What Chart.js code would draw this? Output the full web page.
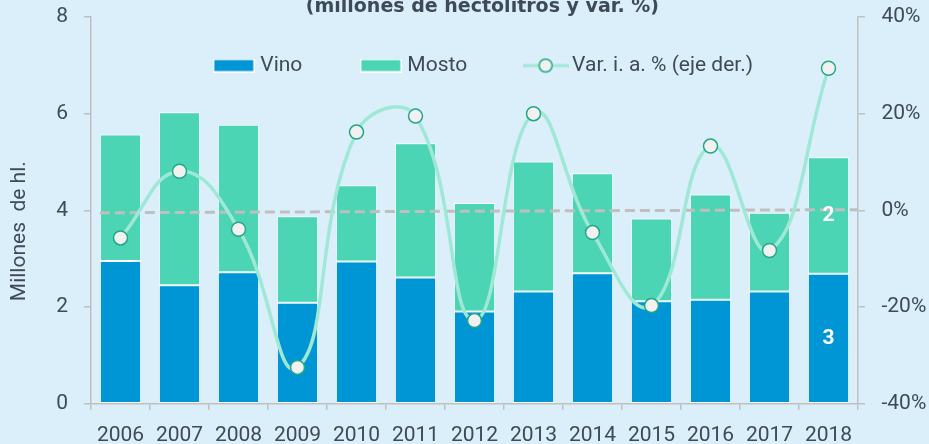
<!DOCTYPE html>
<html>
<head>
<meta charset="utf-8">
<script src="https://cdn.jsdelivr.net/npm/chart.js@4.4.1/dist/chart.umd.min.js"></script>
<style>
  html, body { margin: 0; padding: 0; background: #dbeffa; }
  #wrap { position: relative; width: 929px; height: 444px; }
</style>
</head>
<body>
<div id="wrap"><canvas id="wineChart"></canvas></div>
<script>
// --- data (millones de hl. / %) ---
const years = ['2006', '2007', '2008', '2009', '2010', '2011', '2012', '2013', '2014', '2015', '2016', '2017', '2018'];
const vino = [2.95, 2.45, 2.72, 2.09, 2.94, 2.61, 1.91, 2.32, 2.70, 2.12, 2.15, 2.32, 2.69];
const mosto = [2.62, 3.58, 3.05, 1.79, 1.58, 2.78, 2.24, 2.69, 2.07, 1.71, 2.18, 1.63, 2.41];
const varPct = [-5.7, 8.1, -3.9, -32.5, 16.2, 19.5, -22.8, 20.0, -4.6, -19.7, 13.3, -8.3, 29.4];
// dashed reference line: position (in category units) and value at each end
const refX = [-0.35, 12.5];
const refPct = [-0.5, 0.15];
const labelledYears = ['2018'];
const leftTicks = { min: 0, max: 8, step: 2 };
const rightTicks = { min: -40, max: 40, step: 20 };

// colours
const BLUE = '#0095d5';
const TEAL = '#4cd5b5';
const LINE = '#a0e8d6';
const POINT_FILL = '#f1f1f1';
const POINT_EDGE = '#22a784';
const AXIS = '#bfbfbf';
const TEXT = '#3e4a57';

Chart.defaults.font.family = 'Roboto';
Chart.defaults.color = TEXT;

// legend swatches
function boxSwatch(fill) {
    const c = document.createElement('canvas');
    c.width = 42; c.height = 14;
    const g = c.getContext('2d');
    g.fillStyle = '#ffffff';
    g.fillRect(0, 0, 42, 14);
    g.fillStyle = fill;
    g.fillRect(1.5, 1.5, 39, 11);
    return c;
}
function lineSwatch() {
    const c = document.createElement('canvas');
    c.width = 46; c.height = 18;
    const g = c.getContext('2d');
    g.strokeStyle = LINE; g.lineWidth = 3;
    g.beginPath(); g.moveTo(0, 9); g.lineTo(46, 9); g.stroke();
    g.beginPath(); g.arc(23, 9, 6.5, 0, Math.PI * 2);
    g.fillStyle = POINT_FILL; g.fill();
    g.lineWidth = 1.5; g.strokeStyle = POINT_EDGE; g.stroke();
    return c;
}
const legendIcons = [boxSwatch(BLUE), boxSwatch(TEAL), lineSwatch()];

// legend sits inside the plot, below the top of the axes; title nudged right
const legendInPlot = {
    id: 'legendInPlot',
    afterLayout(chart) {
        const lg = chart.legend;
        lg.top = chart.chartArea.top - 24.5;
        lg.height = 120;
        lg.bottom = lg.top + lg.height;
        lg.left += 14;
        lg.right += 14;
        const tb = chart.titleBlock;
        tb.left += 11;
        tb.right += 11;
    }
};

// white value labels on the labelled bars
const barValues = {
    id: 'barValues',
    afterDatasetsDraw(chart) {
        const ctx = chart.ctx;
        ctx.save();
        ctx.font = 'bold 21px Roboto';
        ctx.fillStyle = '#ffffff';
        ctx.textAlign = 'center';
        ctx.textBaseline = 'middle';
        [0, 1].forEach(di => {
            const meta = chart.getDatasetMeta(di);
            years.forEach((yr, i) => {
                if (!labelledYears.includes(yr)) return;
                const bar = meta.data[i];
                const v = chart.data.datasets[di].data[i];
                ctx.fillText(String(Math.round(v)), bar.x, (bar.y + bar.base) / 2);
            });
        });
        ctx.restore();
    }
};

const ctx = document.getElementById('wineChart').getContext('2d');

const axisGrid = { drawOnChartArea: false, color: AXIS, lineWidth: 1.5, tickLength: 7 };
const axisBorder = { color: AXIS, width: 1.5 };

new Chart(ctx, {
    type: 'bar',
    data: {
        labels: years,
        datasets: [
            {
                label: 'Vino',
                data: vino,
                backgroundColor: BLUE,
                borderColor: '#ffffff',
                borderWidth: 1,
                borderSkipped: false,
                grouped: false,
                barPercentage: 0.7,
                categoryPercentage: 1,
                yAxisID: 'y',
                order: 2
            },
            {
                label: 'Mosto',
                data: mosto,
                backgroundColor: TEAL,
                borderColor: '#ffffff',
                borderWidth: 1,
                borderSkipped: false,
                grouped: false,
                barPercentage: 0.7,
                categoryPercentage: 1,
                yAxisID: 'y',
                order: 2
            },
            {
                type: 'line',
                label: 'Var. i. a. % (eje der.)',
                data: varPct,
                yAxisID: 'y2',
                borderColor: LINE,
                borderWidth: 3.5,
                tension: 0.45,
                pointRadius: 7,
                pointBackgroundColor: POINT_FILL,
                pointBorderColor: POINT_EDGE,
                pointBorderWidth: 1.5,
                order: 0
            },
            {
                type: 'line',
                label: 'ref',
                data: refX.map((x, i) => ({ x: x, y: refPct[i] })),
                xAxisID: 'xRef',
                yAxisID: 'y2',
                borderColor: AXIS,
                borderWidth: 3,
                borderDash: [10, 5],
                pointRadius: 0,
                order: 1
            }
        ]
    },
    options: {
        responsive: true,
        maintainAspectRatio: false,
        animation: false,
        // negative sides cancel the doubled tick padding that Chart.js reserves
        layout: { autoPadding: false, padding: { right: -13.8, bottom: -17.5 } },
        plugins: {
            tooltip: { enabled: false },
            title: {
                display: true,
                text: '(millones de hectolitros y var. %)',
                color: TEXT,
                font: { family: 'DejaVu Sans', size: 19, weight: 'bold', lineHeight: 1.2 },
                padding: { top: -4.7, bottom: -2.1 }
            },
            legend: {
                position: 'top',
                maxHeight: 1,
                labels: {
                    usePointStyle: true,
                    pointStyleWidth: 32,
                    boxHeight: 14,
                    padding: 62.5,
                    color: TEXT,
                    font: { size: 21 },
                    generateLabels(chart) {
                        const items = Chart.defaults.plugins.legend.labels.generateLabels(chart);
                        return items
                            .filter(it => it.datasetIndex < 3)
                            .sort((a, b) => a.datasetIndex - b.datasetIndex)
                            .map(it => { it.pointStyle = legendIcons[it.datasetIndex]; return it; });
                    }
                }
            }
        },
        scales: {
            x: {
                stacked: true,
                grid: { offset: true, drawOnChartArea: false, color: AXIS, lineWidth: 1.5, tickLength: 6 },
                border: axisBorder,
                ticks: { color: TEXT, font: { size: 21, lineHeight: 0.8 }, padding: 17.5, maxRotation: 0, autoSkip: false }
            },
            xRef: { type: 'linear', display: false, offset: false, min: -0.5, max: 12.5 },
            y: {
                stacked: true,
                min: leftTicks.min,
                max: leftTicks.max,
                grid: axisGrid,
                border: axisBorder,
                ticks: { stepSize: leftTicks.step, color: TEXT, font: { size: 21, lineHeight: 0.05 }, padding: 16 },
                title: {
                    display: true,
                    text: 'Millones  de hl.        ',
                    color: TEXT,
                    font: { size: 21, lineHeight: 1.2 },
                    padding: { top: 7.4, bottom: 7.6 }
                }
            },
            y2: {
                position: 'right',
                min: rightTicks.min,
                max: rightTicks.max,
                grid: axisGrid,
                border: axisBorder,
                ticks: { stepSize: rightTicks.step, color: TEXT, font: { size: 21, lineHeight: 0.05 }, padding: 16.5, callback: v => v + '%' }
            }
        }
    },
    plugins: [legendInPlot, barValues]
});
</script>
</body>
</html>
